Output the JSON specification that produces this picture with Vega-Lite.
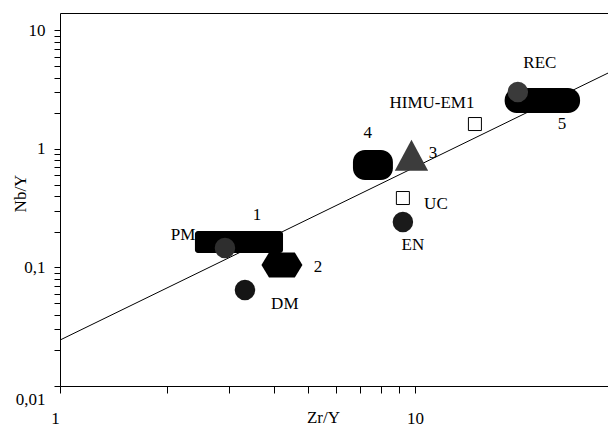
{
  "$schema": "https://vega.github.io/schema/vega-lite/v6.json",
  "width": 548,
  "height": 373,
  "autosize": {"type": "none"},
  "padding": {"left": 60, "top": 13, "right": 0, "bottom": 41},
  "background": "white",
  "view": {"stroke": null},
  "config": {
    "font": "Liberation Serif",
    "axis": {
      "domainColor": "black",
      "tickColor": "black",
      "labelColor": "black",
      "titleColor": "black",
      "labelFont": "Liberation Serif",
      "titleFont": "Liberation Serif",
      "titleFontWeight": "normal",
      "grid": false
    }
  },
  "datasets": {
    "trend": [{"x": 1, "y": 0.0244}, {"x": 35, "y": 4.36}],
    "field1": [{"name": "1", "x": 2.40, "x2": 4.25, "y": 0.203, "y2": 0.1323}],
    "fields": [
      {"name": "4", "x": 6.69, "x2": 8.67, "y": 0.978, "y2": 0.546},
      {"name": "5", "x": 17.9, "x2": 29.2, "y": 3.26, "y2": 2.01}
    ],
    "hexagon": [{"name": "2", "x": 4.22, "y": 0.1048}],
    "triangle": [{"name": "3", "x": 9.78, "y": 0.862}],
    "squares": [
      {"name": "HIMU-EM1", "x": 14.76, "y": 1.62},
      {"name": "UC", "x": 9.25, "y": 0.385}
    ],
    "circles": [
      {"name": "PM", "x": 2.916, "y": 0.1459},
      {"name": "DM", "x": 3.32, "y": 0.0645},
      {"name": "EN", "x": 9.25, "y": 0.2416},
      {"name": "REC", "x": 19.5, "y": 3.02}
    ],
    "labels": [
      {"text": "1", "x": 3.588, "y": 0.2768},
      {"text": "PM", "x": 2.221, "y": 0.1878},
      {"text": "2", "x": 5.33, "y": 0.1009},
      {"text": "DM", "x": 4.30, "y": 0.0492},
      {"text": "4", "x": 7.37, "y": 1.361},
      {"text": "3", "x": 11.24, "y": 0.923},
      {"text": "HIMU-EM1", "x": 11.17, "y": 2.438},
      {"text": "UC", "x": 11.46, "y": 0.343},
      {"text": "EN", "x": 9.87, "y": 0.1546},
      {"text": "REC", "x": 22.5, "y": 5.30},
      {"text": "5", "x": 25.95, "y": 1.62}
    ]
  },
  "encoding": {
    "x": {"field": "x", "type": "quantitative", "scale": {"type": "log", "domain": [1, 35], "nice": false}, "axis": null},
    "y": {
      "field": "y", "type": "quantitative",
      "scale": {"type": "log", "domain": [0.01, 14], "nice": false},
      "axis": {
        "orient": "left",
        "values": [0.01, 0.02, 0.03, 0.04, 0.05, 0.06, 0.07, 0.08, 0.09, 0.1, 0.2, 0.3, 0.4, 0.5, 0.6, 0.7, 0.8, 0.9, 1, 2, 3, 4, 5, 6, 7, 8, 9, 10],
        "labelExpr": "indexof([0.01, 0.1, 1, 10], datum.value) >= 0 ? replace(toString(datum.value), '.', ',') : ''",
        "tickSize": 6,
        "labelPadding": 9,
        "labelFontSize": 17,
        "labelFlush": false,
        "labelOverlap": false,
        "labelOffset": {"condition": {"test": "datum.value == 0.01", "value": 13}, "value": 0},
        "title": "Nb/Y",
        "titleFontSize": 17,
        "titleX": -40,
        "titleY": 180,
        "titleAlign": "center",
        "titleBaseline": "middle"
      }
    }
  },
  "resolve": {"axis": {"x": "independent"}},
  "layer": [
    {
      "data": {"name": "trend"},
      "mark": {"type": "line", "color": "black", "strokeWidth": 1, "clip": true},
      "encoding": {
        "x": {
          "field": "x", "type": "quantitative",
          "scale": {"type": "log", "domain": [1, 35], "nice": false},
          "axis": {
            "orient": "bottom",
            "values": [1, 2, 3, 4, 5, 6, 7, 8, 9, 10],
            "labelExpr": "datum.value == 1 || datum.value == 10 ? toString(datum.value) : ''",
            "tickSize": 7,
            "labelPadding": 17,
            "labelFontSize": 17,
            "labelFlush": false,
            "labelOverlap": false,
            "labelOffset": {"condition": {"test": "datum.value == 1", "value": -5}, "value": 0},
            "title": "Zr/Y",
            "titleFontSize": 17,
            "titleX": 263,
            "titleY": 36,
            "titleBaseline": "alphabetic",
            "titleAlign": "center"
          }
        }
      }
    },
    {
      "data": {"name": "field1"},
      "mark": {"type": "rect", "color": "black", "cornerRadius": 3},
      "encoding": {
        "x": {
          "field": "x", "type": "quantitative",
          "scale": {"type": "log", "domain": [1, 35], "nice": false},
          "axis": {"orient": "top", "labels": false, "ticks": false, "title": null, "domain": true}
        },
        "x2": {"field": "x2"},
        "y2": {"field": "y2"}
      }
    },
    {
      "data": {"name": "fields"},
      "mark": {"type": "rect", "color": "black", "cornerRadius": 12},
      "encoding": {
        "x2": {"field": "x2"},
        "y2": {"field": "y2"}
      }
    },
    {
      "data": {"name": "hexagon"},
      "mark": {"type": "point", "filled": true, "color": "black", "opacity": 1, "size": 1681, "shape": "M-1,0L-0.63,-0.61L0.63,-0.61L1,0L0.63,0.61L-0.63,0.61Z"}
    },
    {
      "data": {"name": "triangle"},
      "mark": {"type": "point", "filled": true, "color": "#3c3c3c", "opacity": 1, "size": 1110, "shape": "M0,-1L1,0.85L-1,0.85Z"}
    },
    {
      "data": {"name": "squares"},
      "mark": {"type": "point", "shape": "square", "filled": false, "color": "black", "fill": "white", "fillOpacity": 1, "opacity": 1, "strokeWidth": 1, "size": 169}
    },
    {
      "data": {"name": "circles"},
      "mark": {"type": "circle", "opacity": 1, "size": 420},
      "encoding": {
        "color": {
          "field": "name", "type": "nominal",
          "scale": {"domain": ["PM", "DM", "EN", "REC"], "range": ["#2e2e2e", "#151515", "#1a1a1a", "#3a3a3a"]},
          "legend": null
        }
      }
    },
    {
      "data": {"name": "labels"},
      "mark": {"type": "text", "font": "Liberation Serif", "fontSize": 17, "color": "black", "align": "center", "baseline": "middle"},
      "encoding": {"text": {"field": "text"}}
    }
  ]
}
